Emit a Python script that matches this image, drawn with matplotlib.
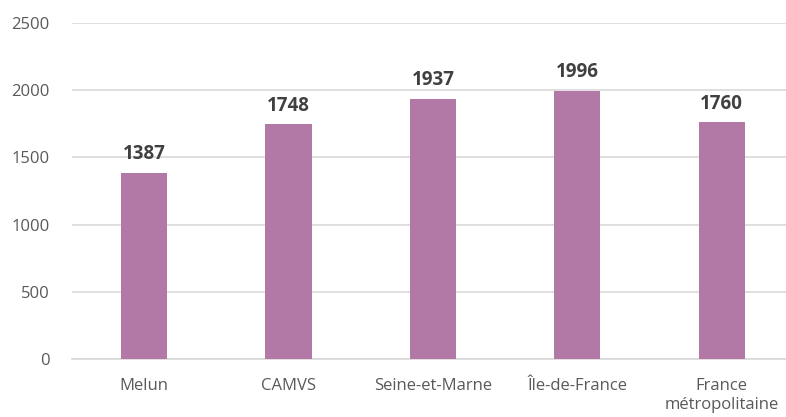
import matplotlib.pyplot as plt
import numpy as np

plt.rcParams['font.family'] = ['Open Sans', 'DejaVu Sans']

territoires = ["Melun", "CAMVS", "Seine-et-Marne", "Île-de-France", "France\nmétropolitaine"]
valeurs = [1387, 1748, 1937, 1996, 1760]
graduations = [0, 500, 1000, 1500, 2000, 2500]

couleur_barre = "#b279a7"
couleur_texte = "#595959"

fig = plt.figure(figsize=(7.86, 4.17), dpi=100)
ax = fig.add_axes([72 / 786, 1 - 359 / 417, 1 - 72 / 786, (359 - 23) / 417])

x = np.arange(len(territoires))
barres = ax.bar(x, valeurs, width=0.32, color=couleur_barre, zorder=3)

for rect, v in zip(barres, valeurs):
    ax.annotate(
        f"{v}",
        (rect.get_x() + rect.get_width() / 2, v),
        xytext=(0, 6),
        textcoords="offset points",
        ha="center",
        va="bottom",
        fontsize=13.5,
        fontweight="bold",
        color="#404040",
    )

ax.set_ylim(0, 2500)
ax.set_yticks(graduations)
ax.set_xlim(-0.5, 4.445)
ax.set_xticks(x)
ax.set_xticklabels(territoires, linespacing=1.2)

ax.grid(axis="y", color="#d9d9d9", linewidth=1.2, zorder=0)
for cote in ["top", "right", "left"]:
    ax.spines[cote].set_visible(False)
ax.spines["bottom"].set_color("#d9d9d9")
ax.spines["bottom"].set_linewidth(1.2)

ax.tick_params(axis="both", length=0, labelsize=12, labelcolor=couleur_texte)
ax.tick_params(axis="x", pad=14)
ax.tick_params(axis="y", pad=16)

fig.savefig("out.png", dpi=100)
